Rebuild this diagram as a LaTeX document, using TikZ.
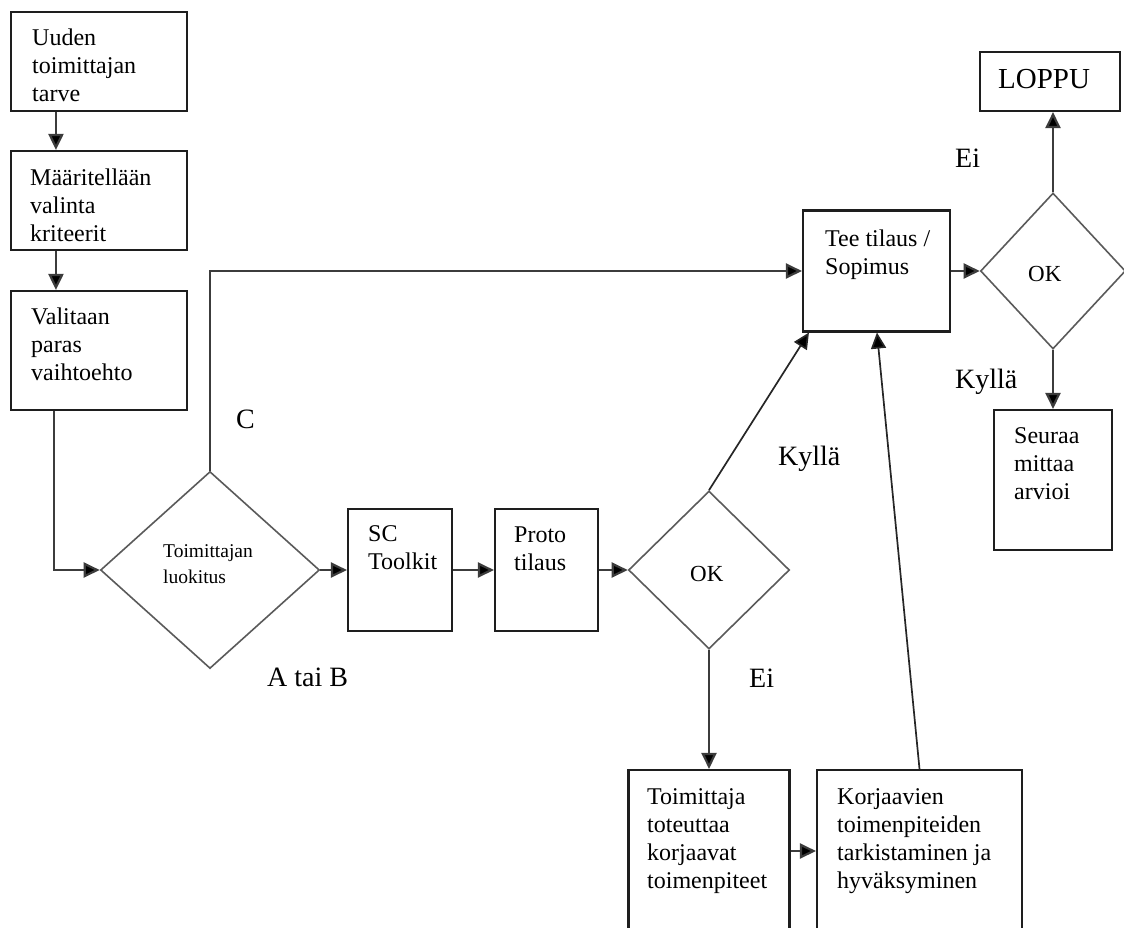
\documentclass[tikz,border=0pt]{standalone}
\usepackage{fontspec}
\setmainfont{Liberation Serif}
\usetikzlibrary{arrows.meta,shapes.geometric}
\definecolor{boxline}{HTML}{1E1E1E}
\definecolor{diamondline}{HTML}{5A5A5A}
\definecolor{flowline}{HTML}{3C3C3C}
\begin{document}
\begin{tikzpicture}[x=1pt,y=-1pt,
  box/.style={draw=boxline, line width=2.1pt, rectangle, inner sep=0pt},
  decision/.style={draw=diamondline, line width=1.6pt, diamond, inner sep=0pt},
  boxtext/.style={anchor=north west, inner sep=0pt, align=left,
    font=\fontsize{24}{28}\selectfont},
  smalltext/.style={anchor=north west, inner sep=0pt, align=left,
    font=\fontsize{19.5}{26}\selectfont},
  tag/.style={anchor=base west, inner sep=0pt, font=\fontsize{28}{32}\selectfont},
  oktext/.style={anchor=base west, inner sep=0pt, font=\fontsize{23}{28}\selectfont},
  tip/.tip={Triangle[length=16pt,width=15pt,fill=black]},
  flow/.style={draw=flowline, line width=2.2pt, -tip},
  thinflow/.style={draw=black!85, line width=1.7pt, -tip}]
\useasboundingbox (0,0) rectangle (1124,927);
\clip (0,0) rectangle (1124,927);

% process boxes
\node[box, minimum width=176pt, minimum height=99pt]  (b1) at (99,61.5) {};
\node[box, minimum width=176pt, minimum height=99pt]  (b2) at (99,200.5) {};
\node[box, minimum width=176pt, minimum height=119pt] (b3) at (99,350.5) {};
\node[box, minimum width=104pt, minimum height=122pt] (sc) at (400,570) {};
\node[box, minimum width=103pt, minimum height=122pt] (proto) at (546.5,570) {};
\node[box, minimum width=147pt, minimum height=121pt] (tee) at (876.5,271) {};
\node[box, minimum width=140pt, minimum height=59pt]  (loppu) at (1050,81.5) {};
\node[box, minimum width=118pt, minimum height=140pt] (seuraa) at (1053,480) {};
\node[box, minimum width=161pt, minimum height=162pt] (toim) at (709,851) {};
\node[box, minimum width=205pt, minimum height=162pt] (korj) at (919.5,851) {};

% decisions
\node[decision, minimum width=219pt, minimum height=197pt] (d1) at (210,570) {};
\node[decision, minimum width=161pt, minimum height=158pt] (d2) at (709,570) {};
\node[decision, minimum width=145pt, minimum height=156pt] (d3) at (1053,271) {};

% box texts
\node[boxtext] (t1) at (32,29) {Uuden\\toimittajan\\tarve};
\node[boxtext] (t2) at (30,169) {Määritellään\\valinta\\kriteerit};
\node[boxtext] (t3) at (31,308) {Valitaan\\paras\\vaihtoehto};
\node[boxtext] (tsc) at (368,525) {SC\\Toolkit};
\node[boxtext] (tproto) at (514,527) {Proto\\tilaus};
\node[boxtext] (ttee) at (825,230) {Tee tilaus /\\Sopimus};
\node[boxtext] (tseuraa) at (1014,427) {Seuraa\\mittaa\\arvioi};
\node[boxtext] (ttoim) at (647,788) {Toimittaja\\toteuttaa\\korjaavat\\toimenpiteet};
\node[boxtext] (tkorj) at (837,788) {Korjaavien\\toimenpiteiden\\tarkistaminen ja\\hyväksyminen};
\node[smalltext] (td1) at (163,544) {Toimittajan\\luokitus};
\node[anchor=base west, inner sep=0pt, font=\fontsize{29}{32}\selectfont] (tloppu) at (998,88) {LOPPU};
\node[oktext] (ok2) at (690,581) {OK};
\node[oktext] (ok3) at (1028,281) {OK};

% branch labels
\node[tag] (lc) at (236,428) {C};
\node[tag] (lab) at (267,686) {A tai B};
\node[tag] (lyes2) at (778,465) {Kyllä};
\node[tag] (lno2) at (749,687) {Ei};
\node[tag] (lno3) at (955,167) {Ei};
\node[tag] (lyes3) at (955,388) {Kyllä};

% connectors
\draw[flow] ([xshift=46pt]b1.south west) -- ([xshift=46pt]b2.north west);
\draw[flow] ([xshift=46pt]b2.south west) -- ([xshift=46pt]b3.north west);
\draw[flow] ([xshift=44pt]b3.south west) |- (d1.west);
\draw[flow] (d1.north) |- (tee.west);
\draw[flow] (d1.east) -- (sc.west);
\draw[flow] (sc.east) -- (proto.west);
\draw[flow] (proto.east) -- (d2.west);
\draw[thinflow] (d2.north) -- ([xshift=7pt]tee.south west);
\draw[flow] (d2.south) -- (toim.north);
\draw[flow] (toim.east) -- (korj.west);
\draw[thinflow] (korj.north) -- ([xshift=75pt]tee.south west);
\draw[flow] (tee.east) -- (d3.west);
\draw[flow] (d3.north) -- (d3.north |- loppu.south);
\draw[flow] (d3.south) -- (seuraa.north);
\end{tikzpicture}
\end{document}
